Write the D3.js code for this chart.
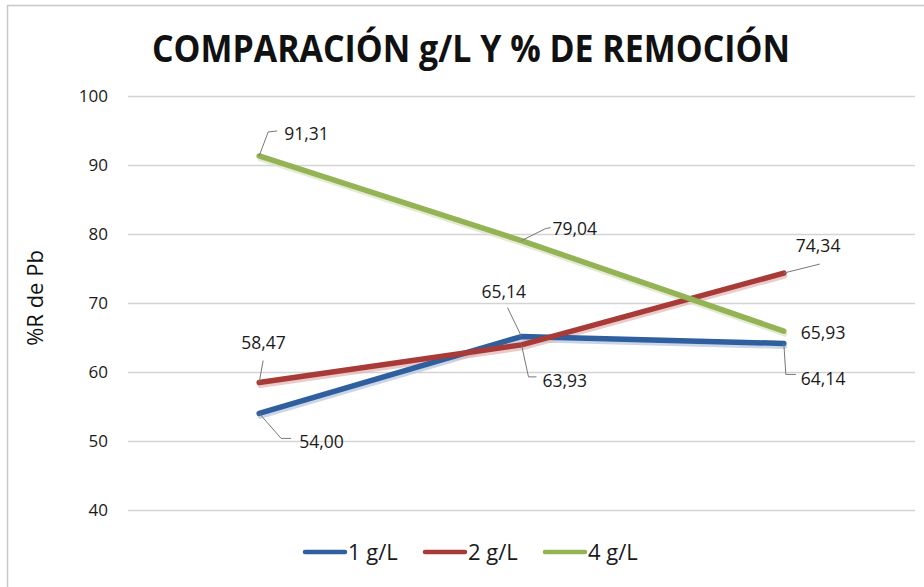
<!DOCTYPE html>
<html><head><meta charset="utf-8">
<script src="https://cdn.jsdelivr.net/npm/d3@7"></script>
<style>body{margin:0;background:#fff}svg{display:block}</style>
</head><body>
<svg id="c" width="924" height="587"></svg>
<script>
const categories = ["A", "B", "C"];
const seriesNames = ["1 g/L", "2 g/L", "4 g/L"];
const series1 = [54.00, 65.14, 64.14];
const series2 = [58.47, 63.93, 74.34];
const series4 = [91.31, 79.04, 65.93];
const labels1 = ["54,00", "65,14", "64,14"];
const labels2 = ["58,47", "63,93", "74,34"];
const labels4 = ["91,31", "79,04", "65,93"];
const yTicks = [40, 50, 60, 70, 80, 90, 100];

const colors = ["#2F5F9E", "#A83A38", "#93B355"];
const shadows = ["#b3c3dc", "#dfb5b4", "#d8e3bf"];
const labelCfg = [
  [{dx:40,dy:28,lead:[[0,0],[22,25],[32,25]]},{dx:-40,dy:-45,lead:[[0,0],[-14,-29]]},{dx:17,dy:35,lead:[[0,0],[2,31],[12,31]]}],
  [{dx:-18,dy:-40,lead:[[0,0],[4,-22]]},{dx:21,dy:36,lead:[[0,0],[7,32],[15,32]]},{dx:12,dy:-27,lead:[[0,0],[36,-9]]}],
  [{dx:25,dy:-22,lead:[[0,0],[9,-24],[18,-25]]},{dx:31,dy:-12,lead:[[0,0],[24,-12],[29,-13]]},{dx:17,dy:2,lead:null}]
];

const svg = d3.select("#c");
const font = "'Open Sans', 'DejaVu Sans', sans-serif";

svg.append("rect").attr("x",7.5).attr("y",5.5).attr("width",930).attr("height",600)
  .attr("fill","none").attr("stroke","#c8c8c8").attr("stroke-width",1.5);

const x = d3.scalePoint().domain(categories).range([128, 915]).padding(0.5);
const y = d3.scaleLinear().domain([40, 100]).range([510, 96]);

svg.append("g").selectAll("line").data(yTicks).join("line")
  .attr("x1",128).attr("x2",915)
  .attr("y1",d=>y(d)+0.5).attr("y2",d=>y(d)+0.5)
  .attr("stroke","#d4d4d4").attr("stroke-width",1.3);

const yAxis = d3.axisLeft(y).tickValues(yTicks).tickSize(0).tickPadding(0);
const ga = svg.append("g").attr("transform","translate(108,0)").call(yAxis);
ga.select(".domain").remove();
ga.selectAll("text").attr("font-family",font).attr("font-size",17).attr("fill","#1a1a1a").attr("dy","0.35em");

svg.append("text").attr("x",471).attr("y",62).attr("text-anchor","middle")
  .attr("font-family",font).attr("font-weight","bold").attr("font-size",38)
  .attr("textLength",638).attr("lengthAdjust","spacingAndGlyphs")
  .attr("fill","#111").text("COMPARACIÓN g/L Y % DE REMOCIÓN");

svg.append("text").attr("transform","translate(43,298) rotate(-90)").attr("text-anchor","middle")
  .attr("font-family",font).attr("font-size",22).attr("fill","#111").text("%R de Pb");

const allSeries = [series1, series2, series4];
const allLabels = [labels1, labels2, labels4];
const line = d3.line().x((d,i)=>x(categories[i])).y(d=>y(d));

allSeries.forEach((s,k)=>{
  svg.append("path").datum(s).attr("d",line).attr("transform","translate(1,3)")
    .attr("fill","none").attr("stroke",shadows[k]).attr("stroke-width",5).attr("stroke-linecap","round").attr("opacity",0.7);
});
allSeries.forEach((s,k)=>{
  svg.append("path").datum(s).attr("d",line)
    .attr("fill","none").attr("stroke",colors[k]).attr("stroke-width",5.5).attr("stroke-linecap","round").attr("stroke-linejoin","round");
});

allSeries.forEach((s,k)=>{
  s.forEach((v,i)=>{
    const px = x(categories[i]), py = y(v);
    const cfg = labelCfg[k][i];
    if (cfg.lead) {
      svg.append("path").attr("d", d3.line()(cfg.lead.map(p=>[px+p[0],py+p[1]])))
        .attr("fill","none").attr("stroke","#777").attr("stroke-width",1);
    }
    svg.append("text").attr("x",px+cfg.dx).attr("y",py+cfg.dy).attr("dy","0.35em")
      .attr("font-family",font).attr("font-size",17.5).attr("fill","#1a1a1a").text(allLabels[k][i]);
  });
});

const legX = [305, 425, 545];
seriesNames.forEach((n,k)=>{
  svg.append("line").attr("x1",legX[k]).attr("x2",legX[k]+40).attr("y1",552).attr("y2",552)
    .attr("stroke",colors[k]).attr("stroke-width",4.5).attr("stroke-linecap","round");
  svg.append("text").attr("x",legX[k]+43).attr("y",552).attr("dy","0.35em")
    .attr("font-family",font).attr("font-size",22).attr("fill","#1a1a1a").text(n);
});
</script>
</body></html>
